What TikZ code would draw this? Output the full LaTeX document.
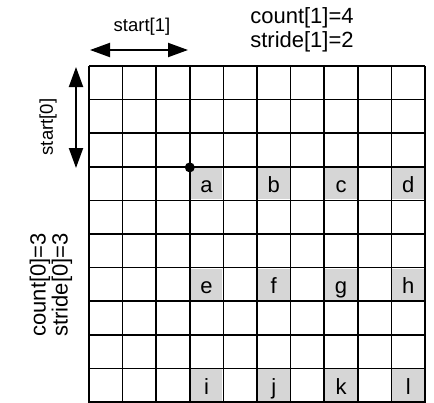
\documentclass[tikz,border=0pt]{standalone}
\usepackage{fontspec}
\setmainfont{Liberation Sans}
\usetikzlibrary{arrows.meta}
\begin{document}
\begin{tikzpicture}[x=1pt,y=-1pt,
  gridline/.style={line width=1.6pt},
  arr/.style={line width=2pt,{Triangle[length=20pt,width=14pt]}-{Triangle[length=20pt,width=14pt]}},
  lbl/.style={font=\fontsize{22}{26}\selectfont, inner sep=0pt},
  smalllbl/.style={font=\fontsize{18.5}{22}\selectfont, inner sep=0pt},
  cellfill/.style={fill=black!16, draw=none},
  letter/.style={font=\fontsize{22}{26}\selectfont, anchor=base, inner sep=0pt}]
\useasboundingbox (0,0) rectangle (434,402);
% shaded cells
\foreach \r in {3,6,9} \foreach \c in {3,5,7,9}
  \fill[cellfill] ({89+\c*33.6+1},{66+\r*33.6+1}) rectangle ++(31.6,31.6);
% grid
\foreach \i in {0,...,10} {
  \draw[gridline] ({89+\i*33.6},66) -- ({89+\i*33.6},403);
  \draw[gridline] (89,{66+\i*33.6}) -- (425,{66+\i*33.6});
}
% letters
\foreach \n/\r/\c in {a/3/3,b/3/5,c/3/7,d/3/9,e/6/3,f/6/5,g/6/7,h/6/9,i/9/3,j/9/5,k/9/7,l/9/9}
  \node[letter] (\n) at ({89+(\c+0.5)*33.6},{66+(\r+1)*33.6-7.5}) {\n};
% corner dot
\node[circle,fill=black,inner sep=0pt,minimum size=10pt] (dot) at (189.8,167.4) {};
% arrows
\coordinate (h1) at (90,50);
\coordinate (h2) at (188,50);
\coordinate (v1) at (76,67);
\coordinate (v2) at (76,168);
\draw[arr] (h1) -- (h2);
\draw[arr] (v1) -- (v2);
% labels
\node[smalllbl] (s1) at (142,27) {start[1]};
\node[smalllbl,rotate=90] (s0) at (48,127) {start[0]};
\node[lbl] (c1) at (302,18) {count[1]=4};
\node[lbl] (st1) at (302,42) {stride[1]=2};
\node[lbl,rotate=90] (c0) at (40,285) {count[0]=3};
\node[lbl,rotate=90] (st0) at (62,285) {stride[0]=3};
\end{tikzpicture}
\end{document}
